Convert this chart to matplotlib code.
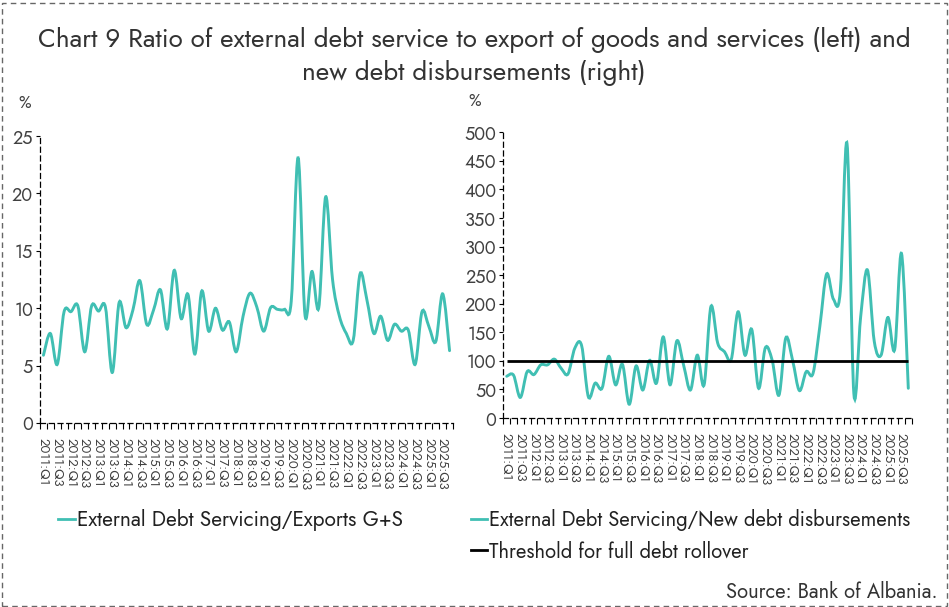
import numpy as np
import matplotlib
matplotlib.use('Agg')
import matplotlib.pyplot as plt
from matplotlib.path import Path
from matplotlib.patches import PathPatch, Rectangle
from matplotlib.lines import Line2D

plt.rcParams['font.family'] = ['Jost', 'Barlow', 'DejaVu Sans']
plt.rcParams['font.weight'] = 300

# quarters 2011:Q1 .. 2025:Q4, only odd quarters get a label
quarters = [f"{y}:Q{q}" for y in range(2011, 2026) for q in range(1, 5)]

# External debt servicing / exports of goods and services, %
debt_to_exports = [5.9, 7.8, 5.1, 9.7, 9.7, 10.2, 6.2, 10.2, 9.75, 10.1,
                   4.4, 10.5, 8.3, 9.85, 12.4, 8.6, 9.85, 11.6, 8.2, 13.3,
                   9.1, 11.2, 6.0, 11.5, 8.0, 10.0, 8.1, 8.8, 6.2, 9.3,
                   11.3, 10.1, 8.0, 10.05, 9.9, 9.9, 10.6, 23.1, 9.4, 13.2,
                   10.05, 19.7, 12.5, 9.3, 7.8, 7.2, 13.0, 10.7, 7.8, 9.3,
                   7.2, 8.6, 8.0, 8.1, 5.1, 9.7, 8.4, 7.1, 11.25, 6.3]

# External debt servicing / new debt disbursements, %
debt_to_disb = [73, 75, 36, 81, 76, 93, 93, 103, 87, 77,
                122, 127, 37, 61, 52, 108, 58, 94, 24, 91,
                49, 101, 61, 142, 58, 135, 92, 49, 110, 58,
                195, 131, 116, 103, 186, 110, 155, 52, 123, 101,
                40, 140, 101, 48, 81, 78, 160, 252, 208, 221,
                480, 43, 177, 259, 134, 110, 176, 120, 288, 52]

threshold = 100  # full debt rollover

teal = '#40bfb3'
txt = '#404040'


def smooth_path(x, y):
    # catmull-rom turned into cubic beziers (looks like excel "smoothed line")
    x = np.asarray(x, float)
    y = np.asarray(y, float)
    xp = np.concatenate([[x[0]], x, [x[-1]]])
    yp = np.concatenate([[y[0]], y, [y[-1]]])
    verts = [(x[0], y[0])]
    codes = [Path.MOVETO]
    for j in range(1, len(x)):
        c1 = (xp[j] + (xp[j+1] - xp[j-1]) / 6, yp[j] + (yp[j+1] - yp[j-1]) / 6)
        c2 = (xp[j+1] - (xp[j+2] - xp[j]) / 6, yp[j+1] - (yp[j+2] - yp[j]) / 6)
        verts += [c1, c2, (xp[j+1], yp[j+1])]
        codes += [Path.CURVE4] * 3
    return Path(verts, codes)


def style_axis(ax, ymax, ystep):
    n = len(quarters)
    ax.set_xlim(-0.5, n - 0.5)
    ax.set_ylim(0, ymax)
    for s in ['top', 'right']:
        ax.spines[s].set_visible(False)
    for s in ['left', 'bottom']:
        ax.spines[s].set_linestyle((0, (4, 3)))
        ax.spines[s].set_linewidth(0.9)
        ax.spines[s].set_color('black')
    ax.set_yticks(np.arange(0, ymax + 1, ystep))
    ax.tick_params(axis='y', length=3, width=0.8, pad=2, labelsize=13, labelcolor=txt)
    ax.set_xticks(np.arange(0, n, 2))
    ax.set_xticklabels(quarters[::2], rotation=-90, fontsize=9.5, color=txt)
    ax.set_xticks(np.arange(-0.5, n, 1), minor=True)
    ax.tick_params(axis='x', which='major', length=0, pad=11)
    ax.tick_params(axis='x', which='minor', length=4, width=0.8)
    ax.patch.set_visible(False)


fig = plt.figure(figsize=(9.49, 6.07), dpi=100)

ax1 = fig.add_axes([40/949, 1 - 423/607, 413/949, 287/607])
ax2 = fig.add_axes([503.3/949, 1 - 418/607, 408.4/949, 285.7/607])

x = np.arange(len(quarters))
ax1.add_patch(PathPatch(smooth_path(x, debt_to_exports), fill=False,
                        edgecolor=teal, lw=2.1, capstyle='round'))
style_axis(ax1, 25, 5)

ax2.hlines(threshold, x[0], x[-1], color='black', lw=2)
ax2.add_patch(PathPatch(smooth_path(x, debt_to_disb), fill=False,
                        edgecolor=teal, lw=2.1, capstyle='round'))
style_axis(ax2, 500, 50)

fig.text(25/949, 1 - 103/607, '%', fontsize=12, color=txt, ha='center', va='center')
fig.text(475/949, 1 - 102/607, '%', fontsize=12, color=txt, ha='center', va='center')

fig.text(474/949, 1 - 40/607,
         'Chart 9 Ratio of external debt service to export of goods and services (left) and',
         fontsize=18.8, color='#333333', ha='center', va='center')
fig.text(474/949, 1 - 73/607, 'new debt disbursements (right)',
         fontsize=18.8, color='#333333', ha='center', va='center')

h1 = [Line2D([], [], color=teal, lw=2)]
fig.legend(h1, ['External Debt Servicing/Exports G+S'], loc='upper left',
           bbox_to_anchor=(58/949, 1 - 509/607), frameon=False, fontsize=15,
           handlelength=0.8, handletextpad=0.1, borderpad=0, borderaxespad=0,
           labelcolor='#222222')
h2 = [Line2D([], [], color=teal, lw=2), Line2D([], [], color='black', lw=2)]
fig.legend(h2, ['External Debt Servicing/New debt disbursements',
                'Threshold for full debt rollover'], loc='upper left',
           bbox_to_anchor=(471/949, 1 - 509/607), frameon=False, fontsize=14.5,
           handlelength=0.8, handletextpad=0.1, borderpad=0, borderaxespad=0,
           labelspacing=0.45, labelcolor='#222222')

fig.text(937/949, 1 - 592/607, 'Source: Bank of Albania.', fontsize=14.5,
         color='#333333', ha='right', va='center')

fig.add_artist(Rectangle((1.5/949, 1.5/607), 945/949, 603/607, transform=fig.transFigure,
                         fill=False, edgecolor='#666666', lw=1, linestyle=(0, (4, 3))))

fig.savefig('out.png', dpi=100)
